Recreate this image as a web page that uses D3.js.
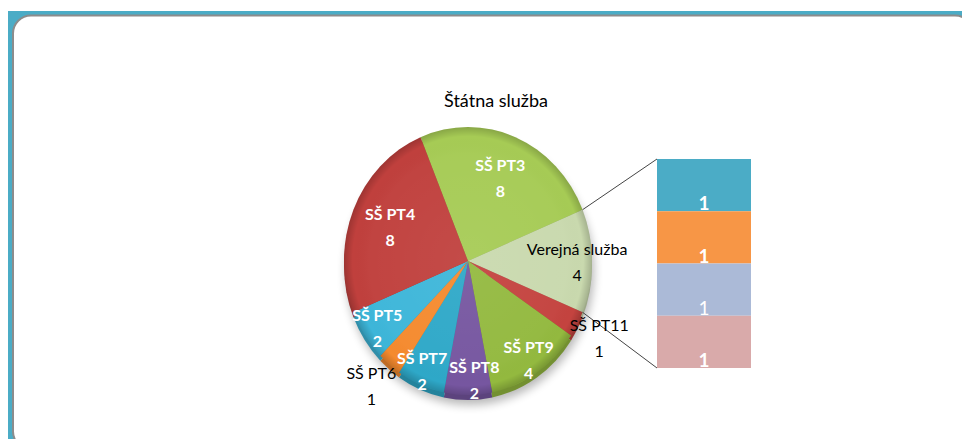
<!DOCTYPE html>
<html>
<head>
<meta charset="utf-8">
<script src="https://cdn.jsdelivr.net/npm/d3@7"></script>
<style>
  html, body { margin: 0; padding: 0; background: #fff; }
  svg { display: block; font-family: Lato, "Open Sans", sans-serif; }
</style>
</head>
<body>
<div id="container"></div>
<script>
const categories = ["SŠ PT3", "Verejná služba", "SŠ PT11", "SŠ PT9", "SŠ PT8", "SŠ PT7", "SŠ PT6", "SŠ PT5", "SŠ PT4"];
const values = [8, 4, 1, 4, 2, 2, 1, 2, 8];
const sliceColors = ["#a6cb55", "#c9d9ae", "#c4433f", "#93b93f", "#7656a0", "#2ea8c8", "#f58a2e", "#3db6d9", "#c0403d"];
const otherName = "Verejná služba";

const barValues = [1, 1, 1, 1];
const barColors = ["#4bacc6", "#f79646", "#abbad7", "#d9aaaa"];

const title = "Štátna služba";

const width = 962;
const height = 439;

const cx = 468, cy = 261, rx = 124, ry = 134;
const bar = { x: 657, w: 94, top: 159, bottom: 368 };

const svg = d3.select('#container')
  .append('svg')
  .attr('width', width)
  .attr('height', height)
  .attr('viewBox', [0, 0, width, height]);

const defs = svg.append('defs');

const shade = defs.append('radialGradient').attr('id', 'shade');
shade.append('stop').attr('offset', '0%').attr('stop-color', '#fff').attr('stop-opacity', 0.06);
shade.append('stop').attr('offset', '80%').attr('stop-color', '#fff').attr('stop-opacity', 0.02);
shade.append('stop').attr('offset', '93%').attr('stop-color', '#000').attr('stop-opacity', 0.0);
shade.append('stop').attr('offset', '100%').attr('stop-color', '#000').attr('stop-opacity', 0.18);

defs.append('filter').attr('id', 'blur')
  .attr('x', '-20%').attr('y', '-20%').attr('width', '140%').attr('height', '140%')
  .append('feGaussianBlur').attr('stdDeviation', 5);

// frame
svg.append('rect')
  .attr('x', 8).attr('y', 11)
  .attr('width', width).attr('height', height)
  .attr('fill', '#4bacc6');

svg.append('rect')
  .attr('x', 13).attr('y', 15.5)
  .attr('width', 960).attr('height', 434)
  .attr('rx', 18)
  .attr('fill', '#fff')
  .attr('stroke', '#8c8c8c')
  .attr('stroke-width', 2);

// title
svg.append('text')
  .attr('x', 496)
  .attr('y', 107)
  .attr('text-anchor', 'middle')
  .attr('font-size', 18)
  .attr('fill', '#000')
  .text(title);

const pie = d3.pie()
  .sort(null)
  .value(d => d)
  .startAngle(-Math.PI / 8)
  .endAngle(2 * Math.PI - Math.PI / 8);

const arcs = pie(values);
const arc = d3.arc().innerRadius(0).outerRadius(rx);

// shadow
svg.append('ellipse')
  .attr('cx', cx + 2).attr('cy', cy + 10)
  .attr('rx', rx).attr('ry', ry)
  .attr('fill', '#000')
  .attr('opacity', 0.28)
  .attr('filter', 'url(#blur)');

// pie side (depth)
svg.append('g')
  .attr('transform', `translate(${cx},${cy + 5}) scale(1,${ry / rx})`)
  .selectAll('path')
  .data(arcs)
  .join('path')
  .attr('d', arc)
  .attr('fill', (d, i) => d3.color(sliceColors[i]).darker(0.7));

// pie top
const pieG = svg.append('g')
  .attr('transform', `translate(${cx},${cy}) scale(1,${ry / rx})`);

pieG.selectAll('path')
  .data(arcs)
  .join('path')
  .attr('d', arc)
  .attr('fill', (d, i) => sliceColors[i]);

pieG.append('circle')
  .attr('r', rx)
  .attr('fill', 'url(#shade)');

// connectors to bar
const other = arcs[categories.indexOf(otherName)];
const edge = a => [cx + Math.sin(a) * rx, cy - Math.cos(a) * ry];
const yBar = d3.scaleLinear([0, d3.sum(barValues)], [bar.top, bar.bottom]);

svg.append('g')
  .attr('stroke', '#444')
  .attr('stroke-width', 1)
  .selectAll('line')
  .data([[edge(other.startAngle), [bar.x, yBar(0)]], [edge(other.endAngle), [bar.x, yBar(d3.sum(barValues))]]])
  .join('line')
  .attr('x1', d => d[0][0]).attr('y1', d => d[0][1])
  .attr('x2', d => d[1][0]).attr('y2', d => d[1][1]);

// stacked bar
const stackBar = barValues.map((v, i) => ({ v, y0: d3.sum(barValues.slice(0, i)), i }));

svg.append('g')
  .selectAll('rect')
  .data(stackBar)
  .join('rect')
  .attr('x', bar.x)
  .attr('width', bar.w)
  .attr('y', d => yBar(d.y0))
  .attr('height', d => yBar(d.y0 + d.v) - yBar(d.y0))
  .attr('fill', d => barColors[d.i]);

svg.append('g')
  .selectAll('text')
  .data(stackBar)
  .join('text')
  .attr('x', bar.x + bar.w / 2)
  .attr('y', d => yBar(d.y0 + d.v) - 1)
  .attr('text-anchor', 'middle')
  .attr('font-size', 19)
  .attr('font-weight', d => d.i === 2 ? 400 : 700)
  .attr('fill', '#fff')
  .text(d => d.v);

// pie labels
const labelK = d => d.data >= 8 ? 0.68 : d.data === 1 ? 1.2 : 0.88;
const labelPos = d => {
  const a = (d.startAngle + d.endAngle) / 2;
  return [cx + Math.sin(a) * rx * labelK(d), cy - Math.cos(a) * ry * labelK(d)];
};
const darkText = (d, i) => d.data === 1 || categories[i] === otherName;

const labels = svg.append('g')
  .selectAll('text')
  .data(arcs)
  .join('text')
  .attr('text-anchor', 'middle')
  .attr('font-size', 16)
  .attr('font-weight', (d, i) => darkText(d, i) ? 400 : 700)
  .attr('fill', (d, i) => darkText(d, i) ? '#000' : '#fff');

labels.append('tspan')
  .attr('class', 'l1')
  .attr('x', d => labelPos(d)[0])
  .attr('y', d => labelPos(d)[1] - 6)
  .text((d, i) => categories[i]);

labels.append('tspan')
  .attr('class', 'l2')
  .attr('x', d => labelPos(d)[0])
  .attr('y', d => labelPos(d)[1] + 20)
  .text(d => d.data);

// push apart labels that collide, sideways only
const nodes = labels.nodes();
const shift = nodes.map(() => 0);
for (let it = 0; it < 20; it++) {
  let moved = false;
  const boxes = nodes.map(n => n.querySelector('.l1').getBBox());
  for (let i = 0; i < nodes.length; i++) {
    for (let j = i + 1; j < nodes.length; j++) {
      const a = boxes[i], b = boxes[j];
      const ox = Math.min(a.x + a.width, b.x + b.width) - Math.max(a.x, b.x);
      const oy = Math.min(a.y + a.height, b.y + b.height) - Math.max(a.y, b.y);
      if (ox > 0 && oy > 0) {
        const s = ox / 2 + 1;
        const left = a.x < b.x ? i : j, right = left === i ? j : i;
        shift[left] -= s; shift[right] += s;
        moved = true;
      }
    }
  }
  labels.selectAll('tspan').attr('x', function() {
    const k = nodes.indexOf(this.parentNode);
    return labelPos(d3.select(this.parentNode).datum())[0] + shift[k];
  });
  if (!moved) break;
}
</script>
</body>
</html>
